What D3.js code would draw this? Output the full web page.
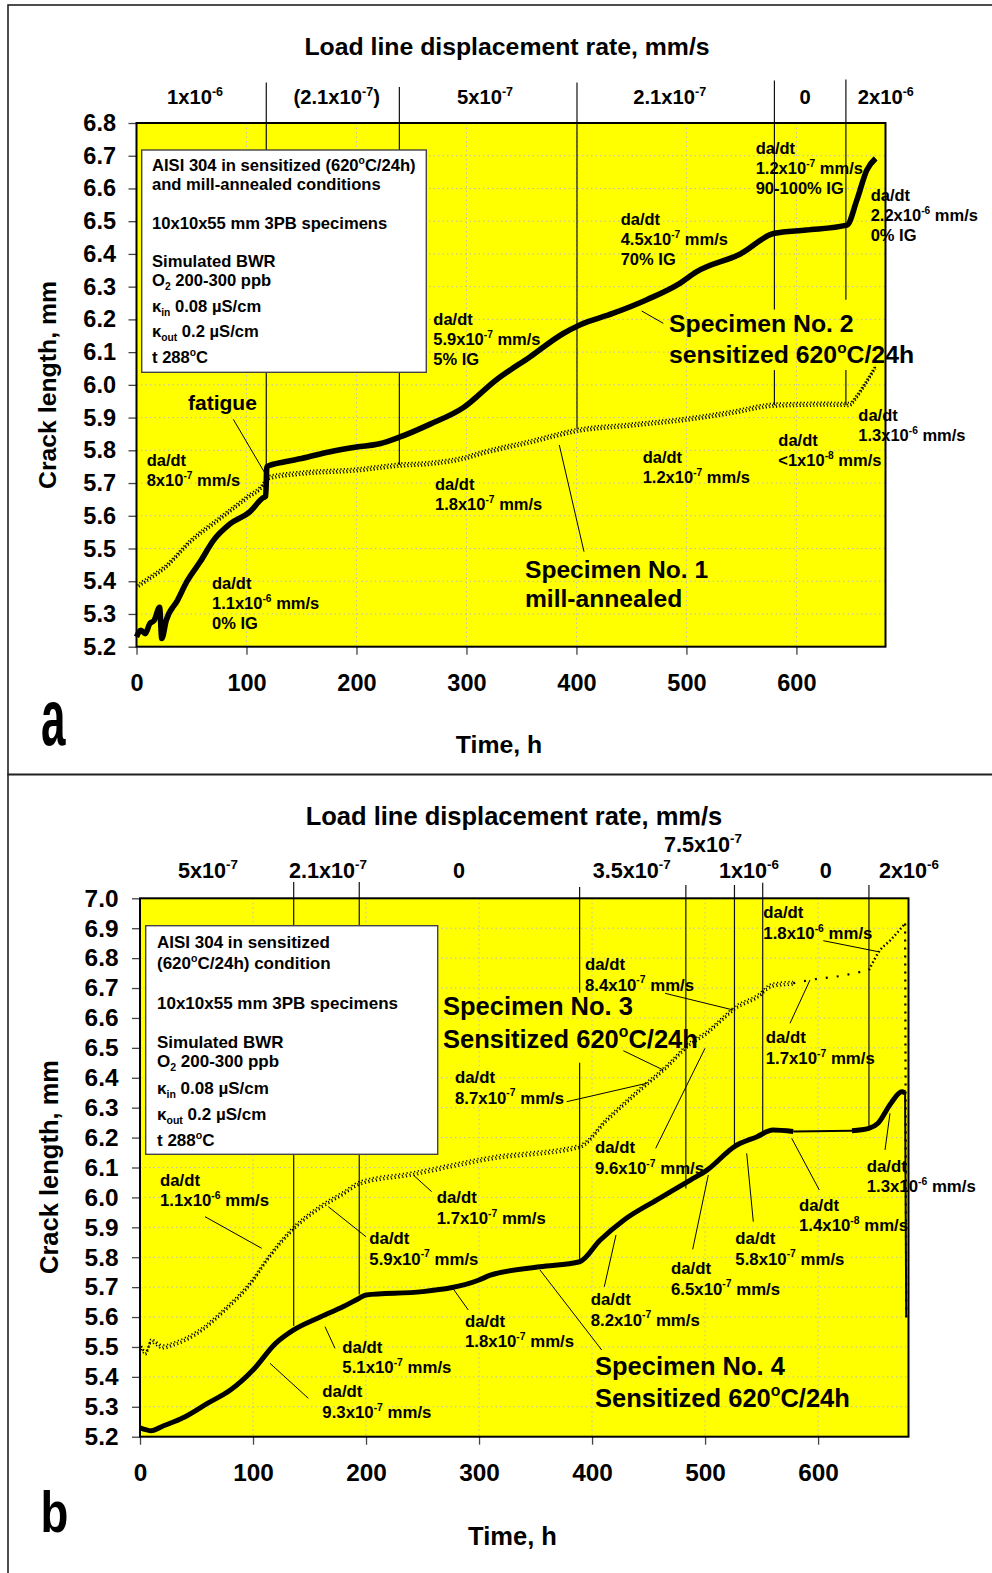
<!DOCTYPE html>
<html>
<head>
<meta charset="utf-8">
<script src="https://cdn.jsdelivr.net/npm/d3@7"></script>
<style>
  body { margin: 0; background: #fff; }
  svg { display: block; }
  text { font-family: "Liberation Sans", Arial, Helvetica, sans-serif; font-weight: bold; fill: #000; white-space: pre; }
</style>
</head>
<body>
<svg id="chart" width="992" height="1573"></svg>
<script>
// ---------------- Panel a: specimens 1 (mill-annealed) and 2 (sensitized) ----------------
const timeTicksA  = [0, 100, 200, 300, 400, 500, 600];
const crackTicksA = [5.2, 5.3, 5.4, 5.5, 5.6, 5.7, 5.8, 5.9, 6.0, 6.1, 6.2, 6.3, 6.4, 6.5, 6.6, 6.7, 6.8];

const spec2Time  = [0, 4, 8, 12, 16, 21, 23, 27, 37, 46, 58, 70, 85, 103, 115, 117.5, 118.5, 135, 150, 175, 200, 221, 239, 267, 297, 327, 358, 388, 403, 433, 464, 494, 509, 549, 580, 609, 646, 655, 664, 672];
const spec2Crack = [5.23, 5.25, 5.24, 5.27, 5.28, 5.32, 5.225, 5.28, 5.34, 5.40, 5.46, 5.525, 5.575, 5.612, 5.655, 5.66, 5.75, 5.765, 5.775, 5.795, 5.81, 5.82, 5.84, 5.88, 5.93, 6.015, 6.086, 6.157, 6.183, 6.218, 6.26, 6.31, 6.345, 6.40, 6.463, 6.473, 6.488, 6.565, 6.656, 6.692];

const spec1Time  = [0, 12, 25, 50, 75, 100, 116, 118.5, 150, 200, 240, 267, 300, 312, 358, 403, 449, 500, 540, 580, 625, 648, 655, 662, 672];
const spec1Crack = [5.383, 5.41, 5.44, 5.525, 5.59, 5.655, 5.70, 5.715, 5.73, 5.74, 5.755, 5.76, 5.778, 5.79, 5.826, 5.862, 5.877, 5.895, 5.915, 5.938, 5.941, 5.94, 5.965, 6.0, 6.055];

const rateLabelsA      = ["1x10^{-6}", "(2.1x10^{-7})", "5x10^{-7}", "2.1x10^{-7}", "0", "2x10^{-6}"];
const rateChangeTimesA = [118, 239, 400.5, 580, 645];
const rateLineEndA     = [5.73, 5.755, 5.866, 5.938, 5.938];

// ---------------- Panel b: specimens 3 and 4 (sensitized) ----------------
const timeTicksB  = [0, 100, 200, 300, 400, 500, 600];
const crackTicksB = [5.2, 5.3, 5.4, 5.5, 5.6, 5.7, 5.8, 5.9, 6.0, 6.1, 6.2, 6.3, 6.4, 6.5, 6.6, 6.7, 6.8, 6.9, 7.0];

const spec3Time  = [0, 5, 10, 20, 30, 50, 75, 100, 112, 136, 160, 180, 194, 240, 310, 389, 413, 442, 466, 487, 501, 516, 526, 546, 560, 578, 593, 619, 645, 655, 664, 677, 678];
const spec3Crack = [5.51, 5.48, 5.52, 5.50, 5.51, 5.546, 5.624, 5.724, 5.79, 5.897, 5.969, 6.014, 6.047, 6.078, 6.131, 6.17, 6.259, 6.359, 6.437, 6.515, 6.549, 6.599, 6.632, 6.671, 6.71, 6.716, 6.727, 6.74, 6.76, 6.827, 6.86, 6.916, 5.59];

const spec4Time  = [0, 10, 20, 30, 40, 60, 80, 100, 120, 136, 160, 180, 194, 200, 250, 300, 310, 354, 389, 407, 428, 457, 487, 502, 526, 546, 560, 578, 630, 645, 653, 664.5, 674, 677, 678];
const spec4Crack = [5.23, 5.22, 5.235, 5.25, 5.267, 5.312, 5.356, 5.423, 5.512, 5.557, 5.601, 5.635, 5.663, 5.674, 5.685, 5.724, 5.74, 5.768, 5.785, 5.857, 5.924, 5.991, 6.058, 6.092, 6.17, 6.203, 6.225, 6.22, 6.223, 6.231, 6.248, 6.315, 6.353, 6.35, 5.60];

const rateLabelsB      = ["5x10^{-7}", "2.1x10^{-7}", "0", "3.5x10^{-7}", "7.5x10^{-7}", "1x10^{-6}", "0", "2x10^{-6}"];
const rateChangeTimesB = [136, 194, 389, 483, 526, 551, 645];
const rateLineEndB     = [5.57, 5.675, 5.784, 6.03, 6.17, 6.22, 6.231];

// ------------------------------------------------------------------------------------------
const svg = d3.select("#chart");
const zip = (t, c) => t.map((v, i) => [v, c[i]]);

// Text with ^{..} superscripts and _{..} subscripts
function richText(sel, str, size) {
  const parts = str.split(/(\^\{[^}]*\}|_\{[^}]*\})/).filter(s => s.length);
  let shift = 0;
  parts.forEach(p => {
    let txt = p, fs = size, off = 0;
    if (p.startsWith("^{")) { txt = p.slice(2, -1); fs = size * 0.62; off = -size * 0.42; }
    else if (p.startsWith("_{")) { txt = p.slice(2, -1); fs = size * 0.62; off = size * 0.24; }
    sel.append("tspan").attr("dy", off - shift).style("font-size", fs + "px").text(txt);
    shift = off;
  });
  return sel;
}

function addText(g, x, y, str, size, anchor) {
  const t = g.append("text").attr("x", x).attr("y", y)
    .attr("text-anchor", anchor || "start").style("font-size", size + "px");
  richText(t, str, size);
  return t;
}

function addNote(g, note, size, lineH) {
  note.lines.forEach((ln, i) => addText(g, note.x, note.y + i * lineH, ln, size));
}

function leaders(g, segs) {
  g.append("g").selectAll("line").data(segs).join("line")
    .attr("x1", d => d[0]).attr("y1", d => d[1]).attr("x2", d => d[2]).attr("y2", d => d[3])
    .attr("stroke", "#000").attr("stroke-width", 1);
}

// A scattered record drawn as a band of fine dots
function dotBand(g, d, width, dash) {
  [[-1.8, 0], [0, 1.1], [1.8, 0.5]].forEach(([dy, off]) => {
    g.append("path").attr("d", d).attr("transform", `translate(0,${dy})`).attr("fill", "none")
      .attr("stroke", "#000").attr("stroke-width", width)
      .attr("stroke-dasharray", dash).attr("stroke-dashoffset", off);
  });
}

function drawPanel(p) {
  const g = svg.append("g");
  // panel border
  g.append("rect").attr("x", p.frame[0]).attr("y", p.frame[1]).attr("width", p.frame[2]).attr("height", p.frame[3])
    .attr("fill", "none").attr("stroke", "#222").attr("stroke-width", 1.6);

  const x = d3.scaleLinear().domain(p.xDomain).range([p.left, p.right]);
  const y = d3.scaleLinear().domain(p.yDomain).range([p.bottom, p.top]);

  g.append("rect").attr("x", p.left).attr("y", p.top)
    .attr("width", p.right - p.left).attr("height", p.bottom - p.top).attr("fill", "#ffff00");

  // dotted grid
  const grid = g.append("g").attr("stroke", "#bdbdbd").attr("stroke-width", 1).attr("stroke-dasharray", "1.5 3");
  grid.selectAll("line.h").data(p.yTicks.slice(1, -1)).join("line").attr("class", "h")
    .attr("x1", p.left).attr("x2", p.right).attr("y1", d => y(d)).attr("y2", d => y(d));
  grid.selectAll("line.v").data(p.xTicks.slice(1)).join("line").attr("class", "v")
    .attr("x1", d => x(d)).attr("x2", d => x(d)).attr("y1", p.top).attr("y2", p.bottom);

  // axes
  const ya = g.append("g").attr("transform", `translate(${p.left},0)`)
    .call(d3.axisLeft(y).tickValues(p.yTicks).tickFormat(d3.format(".1f")).tickSize(8).tickSizeOuter(0).tickPadding(p.yPad));
  const xa = g.append("g").attr("transform", `translate(0,${p.bottom})`)
    .call(d3.axisBottom(x).tickValues(p.xTicks).tickFormat(d3.format("d")).tickSize(8).tickSizeOuter(0).tickPadding(p.xPad));
  [ya, xa].forEach(a => {
    a.select(".domain").remove();
    a.selectAll(".tick line").attr("stroke", "#444").attr("stroke-width", 1.3);
    a.selectAll(".tick text").style("font-size", p.fs.tick + "px")
      .style("font-family", '"Liberation Sans", Arial, sans-serif').style("font-weight", "bold").attr("fill", "#000");
  });

  // rate change markers (time of load-line displacement rate change)
  const rl = g.append("g").attr("stroke", "#111").attr("stroke-width", 1.2);
  p.rateTimes.forEach((t, i) => {
    const gap = p.rateGaps && p.rateGaps[i];
    if (gap) {
      rl.append("line").attr("x1", x(t)).attr("x2", x(t)).attr("y1", p.rateTop[i]).attr("y2", y(gap[0]));
      rl.append("line").attr("x1", x(t)).attr("x2", x(t)).attr("y1", y(gap[1])).attr("y2", y(p.rateEnd[i]));
    } else {
      rl.append("line").attr("x1", x(t)).attr("x2", x(t)).attr("y1", p.rateTop[i]).attr("y2", y(p.rateEnd[i]));
    }
  });

  // plot frame
  g.append("rect").attr("x", p.left).attr("y", p.top)
    .attr("width", p.right - p.left).attr("height", p.bottom - p.top)
    .attr("fill", "none").attr("stroke", "#000").attr("stroke-width", 2);

  // titles
  addText(g, p.titlePos[0], p.titlePos[1], "Load line displacement rate, mm/s", p.fs.title, "middle");
  addText(g, p.timePos[0], p.timePos[1], "Time, h", p.fs.title, "middle");
  g.append("text").attr("transform", `translate(${p.crackPos[0]},${p.crackPos[1]}) rotate(-90)`)
    .attr("text-anchor", "middle").style("font-size", p.fs.title + "px").text("Crack length, mm");
  p.rateLabels.forEach((lab, i) => addText(g, p.rateLabelPos[i][0], p.rateLabelPos[i][1], lab, p.fs.top, "middle"));

  // panel letter
  g.append("text").attr("transform", `translate(${p.letter.x},${p.letter.y}) scale(${p.letter.sx},1)`)
    .style("font-size", p.letter.size + "px").text(p.letter.text);

  return { g, x, y };
}

// ---------------- Panel a ----------------
const A = drawPanel({
  frame: [8, 5, 1000, 769.5],
  left: 136.5, right: 885.5, top: 123, bottom: 646.7,
  xDomain: [0, 681], yDomain: [5.2, 6.8],
  xTicks: timeTicksA, yTicks: crackTicksA, yPad: 12.5, xPad: 20,
  fs: { tick: 23.5, title: 24.8, top: 20.2 },
  rateTimes: rateChangeTimesA, rateEnd: rateLineEndA, rateTop: [82.5, 87, 82.5, 80.5, 79.5],
  rateGaps: [null, null, null, [6.23, 6.045], [6.26, 6.045]],
  rateLabels: rateLabelsA,
  rateLabelPos: [[195, 104], [336.7, 104], [485, 104], [669.7, 104], [805, 104], [885.8, 104]],
  titlePos: [507, 55], timePos: [499, 753], crackPos: [56, 385],
  letter: { text: "a", x: 41, y: 745, size: 80, sx: 0.55 }
});
{
  const line = d3.line().curve(d3.curveMonotoneX).x(d => A.x(d[0])).y(d => A.y(d[1]));
  const g = A.g;
  // specimen 1: scattered data points
  dotBand(g, line(zip(spec1Time, spec1Crack)), 1.7, "1.2 2.2");
  // specimen 2: dense noisy record
  g.append("path").attr("d", line(zip(spec2Time, spec2Crack))).attr("fill", "none")
    .attr("stroke", "#000").attr("stroke-width", 5.6).attr("stroke-linejoin", "round");

  // legend box
  g.append("rect").attr("x", 141.7).attr("y", 150).attr("width", 284.6).attr("height", 222.3)
    .attr("fill", "#fff").attr("stroke", "#444").attr("stroke-width", 1.4);
  const leg = [
    ["AISI 304 in sensitized (620^{o}C/24h)", 171], ["and mill-annealed conditions", 190],
    ["10x10x55 mm 3PB specimens", 229], ["Simulated BWR", 266.7], ["O_{2} 200-300 ppb", 286],
    ["κ_{in} 0.08 µS/cm", 311.7], ["κ_{out} 0.2 µS/cm", 337.3], ["t 288^{o}C", 362.7]
  ];
  leg.forEach(d => addText(g, 152, d[1], d[0], 16.6));

  const notes = [
    { x: 146.7, y: 466,   lines: ["da/dt", "8x10^{-7} mm/s"] },
    { x: 212,   y: 589.3, lines: ["da/dt", "1.1x10^{-6} mm/s", "0% IG"] },
    { x: 435,   y: 490,   lines: ["da/dt", "1.8x10^{-7} mm/s"] },
    { x: 433.3, y: 325,   lines: ["da/dt", "5.9x10^{-7} mm/s", "5% IG"] },
    { x: 620.7, y: 225,   lines: ["da/dt", "4.5x10^{-7} mm/s", "70% IG"] },
    { x: 755.7, y: 154.3, lines: ["da/dt", "1.2x10^{-7} mm/s", "90-100% IG"] },
    { x: 870.7, y: 201,   lines: ["da/dt", "2.2x10^{-6} mm/s", "0% IG"] },
    { x: 642.7, y: 463.3, lines: ["da/dt", "1.2x10^{-7} mm/s"] },
    { x: 778.3, y: 445.7, lines: ["da/dt", "<1x10^{-8} mm/s"] },
    { x: 858.3, y: 420.7, lines: ["da/dt", "1.3x10^{-6} mm/s"] }
  ];
  notes.forEach(n => addNote(g, n, 16.5, 20));
  addText(g, 188, 410, "fatigue", 21);

  addNote(g, { x: 669, y: 331.7, lines: ["Specimen No. 2", "sensitized 620^{o}C/24h"] }, 24.8, 31.6);
  addNote(g, { x: 525, y: 578.3, lines: ["Specimen No. 1", "mill-annealed"] }, 24.6, 28.4);

  leaders(g, [[233.3, 419.3, 265, 473.3], [641.7, 311, 663.3, 323.3], [559.3, 445, 584, 551.7]]);
}

// ---------------- Panel b ----------------
const B = drawPanel({
  frame: [8, 774.5, 1000, 820],
  left: 140, right: 908.5, top: 898.3, bottom: 1436.7,
  xDomain: [0, 680], yDomain: [5.2, 7.0],
  xTicks: timeTicksB, yTicks: crackTicksB, yPad: 13.5, xPad: 18.8,
  fs: { tick: 24.4, title: 25.5, top: 21.6 },
  rateTimes: rateChangeTimesB, rateEnd: rateLineEndB, rateTop: [882, 882, 887, 885, 885, 882.7, 885],
  rateGaps: [null, null, [6.684, 6.45], null, null, null, null],
  rateLabels: rateLabelsB,
  rateLabelPos: [[208, 878], [328, 878], [459, 878], [631.7, 878], [703, 851.7], [749, 878], [825.7, 878], [909, 878]],
  titlePos: [514, 825], timePos: [512.5, 1545], crackPos: [58, 1167],
  letter: { text: "b", x: 40.5, y: 1531.7, size: 57, sx: 0.8 }
});
{
  const line = d3.line().curve(d3.curveMonotoneX).x(d => B.x(d[0])).y(d => B.y(d[1]));
  const g = B.g;
  const s3 = zip(spec3Time, spec3Crack);
  const s4 = zip(spec4Time, spec4Crack);
  const part = (arr, t0, t1) => arr.filter(d => d[0] >= t0 && d[0] <= t1);

  // specimen 3: scattered points, sparse between 578 h and 645 h
  dotBand(g, line(part(s3, 0, 578)), 1.6, "1.2 2.6");
  g.append("path").attr("d", line(part(s3, 578, 645))).attr("fill", "none")
    .attr("stroke", "#000").attr("stroke-width", 2.2).attr("stroke-dasharray", "2 9");
  g.append("path").attr("d", line(part(s3, 645, 677))).attr("fill", "none")
    .attr("stroke", "#000").attr("stroke-width", 2.4).attr("stroke-dasharray", "1.5 2.5");
  g.append("path").attr("d", line(part(s3, 677, 680))).attr("fill", "none")
    .attr("stroke", "#000").attr("stroke-width", 2.2).attr("stroke-dasharray", "2 6");

  // specimen 4: dense record, straight link across the unlogged stretch
  g.append("path").attr("d", line(part(s4, 0, 578))).attr("fill", "none")
    .attr("stroke", "#000").attr("stroke-width", 5).attr("stroke-linejoin", "round");
  g.append("path").attr("d", line(part(s4, 578, 630))).attr("fill", "none")
    .attr("stroke", "#000").attr("stroke-width", 2);
  g.append("path").attr("d", line(part(s4, 630, 677))).attr("fill", "none")
    .attr("stroke", "#000").attr("stroke-width", 5).attr("stroke-linejoin", "round");
  g.append("path").attr("d", line(part(s4, 677, 680))).attr("fill", "none")
    .attr("stroke", "#000").attr("stroke-width", 2);

  // legend box
  g.append("rect").attr("x", 145.7).attr("y", 925.7).attr("width", 292).attr("height", 228.6)
    .attr("fill", "#fff").attr("stroke", "#444").attr("stroke-width", 1.4);
  const leg = [
    ["AISI 304 in sensitized", 948.3], ["(620^{o}C/24h) condition", 969],
    ["10x10x55 mm 3PB specimens", 1009], ["Simulated BWR", 1047.7], ["O_{2} 200-300 ppb", 1066.7],
    ["κ_{in} 0.08 µS/cm", 1094], ["κ_{out} 0.2 µS/cm", 1120], ["t 288^{o}C", 1145.7]
  ];
  leg.forEach(d => addText(g, 157, d[1], d[0], 17));

  const notes = [
    { x: 160,   y: 1185.7, lines: ["da/dt", "1.1x10^{-6} mm/s"] },
    { x: 369.3, y: 1244,   lines: ["da/dt", "5.9x10^{-7} mm/s"] },
    { x: 436.7, y: 1203.3, lines: ["da/dt", "1.7x10^{-7} mm/s"] },
    { x: 342.3, y: 1352.7, lines: ["da/dt", "5.1x10^{-7} mm/s"] },
    { x: 322.3, y: 1397.3, lines: ["da/dt", "9.3x10^{-7} mm/s"] },
    { x: 465,   y: 1326.7, lines: ["da/dt", "1.8x10^{-7} mm/s"] },
    { x: 590.7, y: 1305,   lines: ["da/dt", "8.2x10^{-7} mm/s"] },
    { x: 671,   y: 1274,   lines: ["da/dt", "6.5x10^{-7} mm/s"] },
    { x: 735.3, y: 1244,   lines: ["da/dt", "5.8x10^{-7} mm/s"] },
    { x: 799,   y: 1210.7, lines: ["da/dt", "1.4x10^{-8} mm/s"] },
    { x: 866.7, y: 1171.7, lines: ["da/dt", "1.3x10^{-6} mm/s"] },
    { x: 595,   y: 1153.3, lines: ["da/dt", "9.6x10^{-7} mm/s"] },
    { x: 455,   y: 1083,   lines: ["da/dt", "8.7x10^{-7} mm/s"] },
    { x: 585,   y: 970,    lines: ["da/dt", "8.4x10^{-7} mm/s"] },
    { x: 763.3, y: 918.3,  lines: ["da/dt", "1.8x10^{-6} mm/s"] },
    { x: 765.7, y: 1043.3, lines: ["da/dt", "1.7x10^{-7} mm/s"] }
  ];
  notes.forEach(n => addNote(g, n, 16.8, 20.5));

  addNote(g, { x: 443, y: 1015, lines: ["Specimen No. 3", "Sensitized 620^{o}C/24h"] }, 25.5, 33);
  addNote(g, { x: 595, y: 1375, lines: ["Specimen No. 4", "Sensitized 620^{o}C/24h"] }, 25.5, 32);

  leaders(g, [
    [205, 1216.7, 261.7, 1248.3], [328.3, 1206.7, 366, 1236.7], [413.3, 1175, 431.7, 1191.7],
    [325, 1326.7, 335, 1348.3], [270, 1363.3, 308.3, 1398.3], [451.7, 1286.7, 468.3, 1310],
    [604.3, 1286.7, 616, 1235], [692.7, 1249.3, 708.3, 1175], [753.3, 1221.7, 746.7, 1153.3],
    [819.3, 1190, 791.7, 1138.3], [885, 1150, 890, 1113.3], [655.7, 1148.3, 705, 1048.3],
    [566.7, 1101.7, 646.7, 1083.3], [665, 993.3, 733.3, 1010], [823.3, 940.7, 878.3, 951.7],
    [790, 1023.3, 810, 980], [623.3, 1050.7, 663.3, 1070], [601.7, 1350, 540, 1270]
  ]);
}
</script>
</body>
</html>
